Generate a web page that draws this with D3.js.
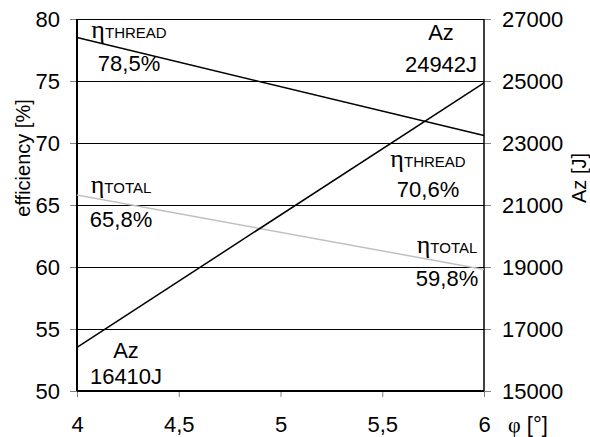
<!DOCTYPE html>
<html>
<head>
    <meta charset="UTF-8">
    <title>efficiency vs angle</title>
    <style>
        body { margin: 0; background: #fff; }
        svg text { font-family: "Liberation Sans", Arial, sans-serif; fill: #000; }
        .grid line { stroke: #000; stroke-width: 1; shape-rendering: crispEdges; }
        .tick line { stroke: #808080; }
        .domain { display: none; }
        .greek { font-family: "Liberation Serif", "Times New Roman", serif; }
    </style>
</head>
<body>
    <svg width="590" height="437"></svg>

    <script src="https://d3js.org/d3.v7.min.js"></script>
    <script>
        // data
        const phi = [4, 6];
        const etaThread = [78.5, 70.6];
        const etaTotal = [65.8, 59.8];
        const az = [16410, 24942];

        const xTicks = [4, 4.5, 5, 5.5, 6];
        const effTicks = [50, 55, 60, 65, 70, 75, 80];
        const azTicks = [15000, 17000, 19000, 21000, 23000, 25000, 27000];

        const svg = d3.select("svg");
        const margin = { left: 77, right: 106, top: 19, bottom: 46 };
        const width = 590, height = 437;

        const x = d3.scaleLinear().domain([4, 6]).range([margin.left, width - margin.right]);
        const y = d3.scaleLinear().domain([50, 80]).range([height - margin.bottom, margin.top]);
        const y2 = d3.scaleLinear().domain([15000, 27000]).range([height - margin.bottom, margin.top]);

        const fmt = d => String(d).replace(".", ",");

        // horizontal grid
        svg.append("g").attr("class", "grid")
            .selectAll("line")
            .data(effTicks)
            .enter().append("line")
            .attr("x1", x(4)).attr("x2", x(6))
            .attr("y1", d => Math.round(y(d)) + 0.5)
            .attr("y2", d => Math.round(y(d)) + 0.5);

        // axes
        const gLeft = svg.append("g")
            .attr("transform", `translate(${x(4)},0)`)
            .call(d3.axisLeft(y).tickValues(effTicks).tickSize(7).tickPadding(10).tickFormat(fmt));
        const gRight = svg.append("g")
            .attr("transform", `translate(${x(6)},0)`)
            .call(d3.axisRight(y2).tickValues(azTicks).tickSize(7).tickPadding(11).tickFormat(fmt));
        const gBottom = svg.append("g")
            .attr("transform", `translate(0,${y(50)})`)
            .call(d3.axisBottom(x).tickValues(xTicks).tickSize(6).tickPadding(19).tickFormat(fmt));

        [gLeft, gRight, gBottom].forEach(g => g.selectAll("text").style("font-size", "22px"));

        // frame lines
        svg.append("line").attr("x1", x(4)).attr("x2", x(4)).attr("y1", y(80)).attr("y2", y(50))
            .attr("stroke", "#000").attr("stroke-width", 2);
        svg.append("line").attr("x1", x(6)).attr("x2", x(6)).attr("y1", y(80)).attr("y2", y(50))
            .attr("stroke", "#000").attr("stroke-width", 1.5);
        svg.append("line").attr("x1", x(4)).attr("x2", x(6)).attr("y1", y(50)).attr("y2", y(50))
            .attr("stroke", "#000").attr("stroke-width", 2);

        // series
        const effLine = d3.line().x(d => x(d[0])).y(d => y(d[1]));
        const azLine = d3.line().x(d => x(d[0])).y(d => y2(d[1]));

        svg.append("path").datum(d3.zip(phi, etaTotal))
            .attr("d", effLine).attr("fill", "none").attr("stroke", "#c0c0c0").attr("stroke-width", 1.5);
        svg.append("path").datum(d3.zip(phi, etaThread))
            .attr("d", effLine).attr("fill", "none").attr("stroke", "#000").attr("stroke-width", 1.5);
        svg.append("path").datum(d3.zip(phi, az))
            .attr("d", azLine).attr("fill", "none").attr("stroke", "#000").attr("stroke-width", 1.5);

        // end labels: anchor on a series end point, pixel offsets
        const labels = [
            { sym: "η", sub: "THREAD", val: "78,5%", px: phi[0], py: y(etaThread[0]), dx: 52, dy: 0, gap: 33 },
            { sym: "η", sub: "THREAD", val: "70,6%", px: phi[1], py: y(etaThread[1]), dx: -56, dy: 31, gap: 30 },
            { sym: "η", sub: "TOTAL", val: "65,8%", px: phi[0], py: y(etaTotal[0]), dx: 44, dy: -2, gap: 34 },
            { sym: "η", sub: "TOTAL", val: "59,8%", px: phi[1], py: y(etaTotal[1]), dx: -37, dy: -16, gap: 33 },
            { sym: "", sub: "Az", val: "16410J", px: phi[0], py: y2(az[0]), dx: 49, dy: 11, gap: 26 },
            { sym: "", sub: "Az", val: "24942J", px: phi[1], py: y2(az[1]), dx: -43, dy: -43, gap: 32 }
        ];

        const lab = svg.append("g").selectAll("g")
            .data(labels)
            .enter().append("g")
            .attr("transform", d => `translate(${x(d.px) + d.dx},${d.py + d.dy})`);

        const head = lab.append("text").attr("text-anchor", "middle");
        head.filter(d => d.sym).append("tspan").attr("class", "greek").style("font-size", "26px").text(d => d.sym);
        head.append("tspan")
            .style("font-size", d => d.sym ? "15px" : "22px")
            .text(d => d.sub);

        lab.append("text")
            .attr("text-anchor", "middle")
            .attr("y", d => d.gap)
            .style("font-size", "22px")
            .text(d => d.val);

        // axis titles
        svg.append("text")
            .attr("transform", "translate(30,158) rotate(-90)")
            .attr("text-anchor", "middle")
            .style("font-size", "20px")
            .text("efficiency [%]");

        svg.append("text")
            .attr("transform", "translate(586,178) rotate(-90)")
            .attr("text-anchor", "middle")
            .style("font-size", "20px")
            .text("Az [J]");

        const phiLabel = svg.append("text")
            .attr("x", 508).attr("y", 432)
            .style("font-size", "22px");
        phiLabel.append("tspan").attr("class", "greek").text("φ");
        phiLabel.append("tspan").text(" [°]");
    </script>
</body>
</html>
